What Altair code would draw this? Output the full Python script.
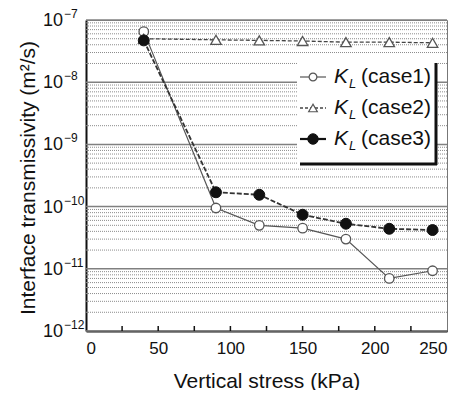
import altair as alt
import pandas as pd

# ---------------- data ----------------
stress = [40, 90, 120, 150, 180, 210, 240]
case1 = [6.5e-8, 9.5e-11, 5.0e-11, 4.5e-11, 3.0e-11, 7.0e-12, 9.3e-12]
case2 = [5.0e-8, 4.8e-8, 4.7e-8, 4.6e-8, 4.4e-8, 4.4e-8, 4.3e-8]
case3 = [4.7e-8, 1.7e-10, 1.55e-10, 7.4e-11, 5.3e-11, 4.4e-11, 4.2e-11]
cases = ["case1", "case2", "case3"]
x_labels = [0, 50, 100, 150, 200, 250]
x_minor = [25, 50, 75, 100, 125, 150, 175, 200, 225]
decade_exp = [-12, -11, -10, -9, -8, -7]

W, H = 361, 311
FONT = "Liberation Sans"
LINE = "#444444"

df = pd.DataFrame({
    "stress": stress * 3,
    "K": case1 + case2 + case3,
    "case": [c for c in cases for _ in stress],
})

xs = alt.Scale(domain=[0, 250], nice=False)
ys = alt.Scale(type="log", domain=[1e-12, 1e-7], nice=False)

XAX = alt.Axis(
    title="Vertical stress (kPa)", values=x_labels, ticks=False, grid=False,
    labelFont=FONT, labelFontSize=17, labelColor="#111111", labelPadding=9,
    domainColor="#111111", domainWidth=2,
    titleFont=FONT, titleFontSize=21, titleFontWeight="normal", titleColor="#111111",
    titlePadding=14)
YAX = alt.Axis(
    title="Interface transmissivity (m\u00b2/s)", labels=False, ticks=False, grid=False,
    values=[10.0 ** e for e in decade_exp],
    domainColor="#111111", domainWidth=2,
    titleFont=FONT, titleFontSize=21, titleFontWeight="normal", titleColor="#111111",
    titleX=-58, titleY=H / 2 + 2, titleAlign="center", titleBaseline="middle", titleAngle=-90)

major = pd.DataFrame({"v": [10.0 ** e for e in decade_exp]})
minor = pd.DataFrame({"v": [m * 10.0 ** e for e in decade_exp[:-1] for m in range(2, 10)]})
ylab = pd.DataFrame({"v": [10.0 ** e for e in decade_exp],
                     "exp": ["\u2212" + str(-e) for e in decade_exp]})
tick_df = pd.DataFrame({"t": x_minor})
one = pd.DataFrame({"a": [0]})

# ---------------- grid ----------------
grid_minor = alt.Chart(minor).mark_rule(color="#8c8c8c", strokeWidth=1, strokeDash=[1, 1]).encode(
    y=alt.Y("v:Q", scale=ys, axis=YAX))
grid_major = alt.Chart(major).mark_rule(color="#808080", strokeWidth=1.5).encode(
    y=alt.Y("v:Q", scale=ys, axis=YAX))

# ---------------- data series ----------------
base = alt.Chart(df).encode(
    x=alt.X("stress:Q", scale=xs, axis=XAX),
    y=alt.Y("K:Q", scale=ys, axis=YAX),
)

l1 = base.transform_filter(alt.datum.case == "case1").mark_line(color="#555555", strokeWidth=1.2)
l2 = base.transform_filter(alt.datum.case == "case2").mark_line(color=LINE, strokeWidth=1.3, strokeDash=[4, 2])
l3 = base.transform_filter(alt.datum.case == "case3").mark_line(color="#333333", strokeWidth=1.8, strokeDash=[5, 2])

p1 = base.transform_filter(alt.datum.case == "case1").mark_point(
    shape="circle", size=90, filled=True, fill="white", stroke="#555555", strokeWidth=1.3, opacity=1)
p2 = base.transform_filter(alt.datum.case == "case2").mark_point(
    shape="triangle-up", size=110, filled=True, fill="white", stroke="#555555", strokeWidth=1.3, opacity=1)
p3 = base.transform_filter(alt.datum.case == "case3").mark_point(
    shape="circle", size=120, filled=True, fill="#111111", stroke="#111111", strokeWidth=1, opacity=1)

# ---------------- inward x ticks ----------------
xticks = alt.Chart(tick_df).mark_rule(color="#111111", strokeWidth=1.5).encode(
    x=alt.X("t:Q", scale=xs, axis=XAX), y=alt.value(H), y2=alt.value(H - 5)
)

# ---------------- y labels 10^n ----------------
ten = alt.Chart(ylab).mark_text(align="right", baseline="middle", fontSize=18, font=FONT,
                                color="#111111", dy=1).encode(
    x=alt.value(-23), y=alt.Y("v:Q", scale=ys, axis=YAX), text=alt.value("10"))
sup = alt.Chart(ylab).mark_text(align="left", baseline="middle", fontSize=12, font=FONT,
                                color="#111111", dy=-6).encode(
    x=alt.value(-22), y=alt.Y("v:Q", scale=ys, axis=YAX), text="exp:N")

# ---------------- legend ----------------
leg_bg = alt.Chart(one).mark_rect(color="white").encode(
    x=alt.value(211), x2=alt.value(351), y=alt.value(40), y2=alt.value(144))
leg_r = alt.Chart(one).mark_rule(color="#111111", strokeWidth=3).encode(
    x=alt.value(350), y=alt.value(43), y2=alt.value(145))
leg_b = alt.Chart(one).mark_rule(color="#111111", strokeWidth=3).encode(
    x=alt.value(214), x2=alt.value(351), y=alt.value(144))

legend_layers = []
row_y = [57, 88, 119]
styles = [
    dict(line=dict(color="#555555", strokeWidth=1.2),
         pt=dict(shape="circle", size=60, filled=True, fill="white", stroke="#555555", strokeWidth=1.2)),
    dict(line=dict(color=LINE, strokeWidth=1.3, strokeDash=[3, 2]),
         pt=dict(shape="triangle-up", size=75, filled=True, fill="white", stroke="#555555", strokeWidth=1.2)),
    dict(line=dict(color="#111111", strokeWidth=2.2),
         pt=dict(shape="circle", size=110, filled=True, fill="#111111", stroke="#111111", strokeWidth=1)),
]
for c, yy, st in zip(cases, row_y, styles):
    legend_layers.append(alt.Chart(one).mark_rule(**st["line"]).encode(
        x=alt.value(214), x2=alt.value(240), y=alt.value(yy)))
    legend_layers.append(alt.Chart(one).mark_point(opacity=1, **st["pt"]).encode(
        x=alt.value(227), y=alt.value(yy)))
    legend_layers.append(alt.Chart(one).mark_text(
        align="left", baseline="middle", fontSize=21, fontStyle="italic", font=FONT, color="#111111").encode(
        x=alt.value(248), y=alt.value(yy), text=alt.value("K")))
    legend_layers.append(alt.Chart(one).mark_text(
        align="left", baseline="middle", fontSize=13, fontStyle="italic", font=FONT, color="#111111").encode(
        x=alt.value(263), y=alt.value(yy + 7), text=alt.value("L")))
    legend_layers.append(alt.Chart(one).mark_text(
        align="left", baseline="middle", fontSize=21, font=FONT, color="#111111").encode(
        x=alt.value(275), y=alt.value(yy), text=alt.value("(" + c + ")")))

chart = alt.layer(
    grid_minor, grid_major, l1, l2, l3, p1, p2, p3, xticks, ten, sup,
    leg_bg, leg_r, leg_b, *legend_layers
).properties(
    width=W, height=H,
    autosize=alt.AutoSizeParams(type="none"),
    padding={"left": 78, "top": 12, "right": 20, "bottom": 59},
    background="white",
).configure_view(stroke="#777777", strokeWidth=1)

chart.save("out.html", embed_options={"renderer": "svg", "actions": False})
